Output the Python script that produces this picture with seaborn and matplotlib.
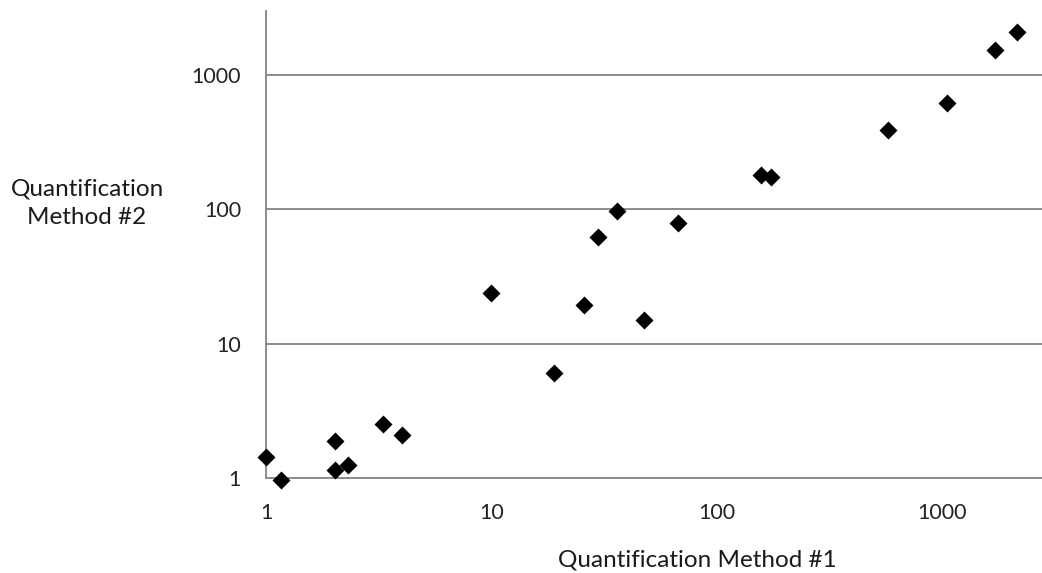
import matplotlib
matplotlib.use("Agg")
import matplotlib.pyplot as plt
import seaborn as sns
import pandas as pd
from matplotlib.ticker import FixedLocator, FixedFormatter, NullLocator

# Paired measurements from the two quantification methods
method1 = [1.0, 1.16, 2.02, 2.02, 2.30, 3.29, 4.03, 10.0, 18.9, 25.9,
           29.6, 36.3, 47.8, 67.5, 157, 174, 578, 1054, 1717, 2148]
method2 = [1.43, 0.97, 1.89, 1.15, 1.25, 2.52, 2.09, 23.9, 6.05, 19.4,
           62.3, 97.3, 15.0, 79.2, 180, 174, 390, 620, 1537, 2094]

tick_values = [1, 10, 100, 1000]
tick_labels = ["1", "10", "100", "1000"]

sns.set_theme(style="white")
plt.rcParams["font.family"] = ["Lato", "DejaVu Sans"]

W, H = 1042, 573
fig = plt.figure(figsize=(W / 100, H / 100), dpi=100)
ax = fig.add_axes([266 / W, (H - 478) / H, (W - 266) / W, (478 - 11) / H])

df = pd.DataFrame({"method1": method1, "method2": method2})
sns.scatterplot(data=df, x="method1", y="method2", marker="D", color="black",
                s=84, linewidth=0, ax=ax, clip_on=False, zorder=3)

ax.set_xscale("log")
ax.set_yscale("log")
ax.set_xlim(1, 2780)
ax.set_ylim(1, 3000)

grey = "#8c8c8c"
for axis in (ax.xaxis, ax.yaxis):
    axis.set_major_locator(FixedLocator(tick_values))
    axis.set_major_formatter(FixedFormatter(tick_labels))
    axis.set_minor_locator(NullLocator())

ax.yaxis.grid(True, color=grey, linewidth=1.4)
ax.xaxis.grid(False)
ax.set_axisbelow(True)

for side in ("top", "right"):
    ax.spines[side].set_visible(False)
for side in ("left", "bottom"):
    ax.spines[side].set_color(grey)
    ax.spines[side].set_linewidth(1.4)

ax.tick_params(axis="both", which="major", direction="out", length=7,
               width=1.1, color=grey, labelsize=15.5, labelcolor="#222222")
ax.tick_params(axis="x", pad=11)
ax.tick_params(axis="y", pad=11)

ax.set_xlabel("Quantification Method #1", fontsize=17.5, color="#1a1a1a", va="center")
ax.xaxis.set_label_coords((697 - 266) / (W - 266), (478 - 560) / (478 - 11))
ax.set_ylabel("Quantification\nMethod #2", fontsize=17.5, color="#1a1a1a",
              rotation=0, ha="center", va="center", multialignment="center",
              linespacing=1.45)
ax.yaxis.set_label_coords((87 - 266) / (W - 266), (478 - 203) / (478 - 11))

fig.savefig("out.png", dpi=100, facecolor="white")
